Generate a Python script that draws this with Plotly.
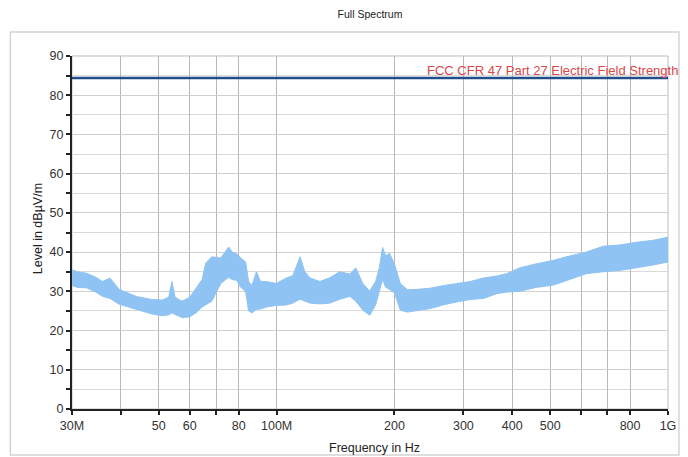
import plotly.graph_objects as go

# ---- data (frequencies in MHz, levels in dBuV/m) ----
freq_mhz = [30, 31, 32.7, 34.5, 35.9, 37.5, 39.6, 43.8, 48.1, 51, 53, 54, 55, 57.3,
            60, 62.2, 64.5, 65.9, 68.3, 72, 75.4, 77, 79, 81, 83.3, 84.8, 86.5,
            88.8, 91, 94.2, 99.8, 105.8, 110, 114.8, 118, 121.7, 129, 136.9, 145,
            153.8, 159.3, 166, 172.9, 179, 183, 186.5, 190, 194.3, 200, 207, 216,
            229, 247, 268, 289, 312, 338, 365, 387, 418, 460, 510, 560, 618, 683,
            750, 830, 915, 1000]
level_upper = [35.5, 35.0, 34.6, 33.6, 32.5, 33.4, 30.5, 28.7, 27.9, 27.8, 28.5, 32.5,
               28.5, 27.5, 28.5, 30.9, 33.0, 37.2, 38.8, 38.5, 41.3, 40.0, 39.6, 38.5,
               37.5, 32.5, 31.5, 35.0, 32.5, 32.5, 32.0, 33.4, 34.0, 38.8, 35.0, 33.4,
               32.5, 33.5, 35.0, 34.4, 36.0, 32.0, 30.1, 32.5, 36.0, 41.2, 39.0, 39.7,
               37.0, 32.0, 30.4, 30.5, 30.8, 31.5, 32.0, 32.5, 33.4, 33.9, 34.5, 36.0,
               37.0, 37.9, 39.0, 40.0, 41.5, 41.8, 42.5, 43.0, 43.8]
level_lower = [31.5, 31.0, 30.9, 29.8, 28.7, 28.2, 26.7, 25.4, 24.2, 23.8, 24.0, 24.5,
               24.0, 23.3, 23.5, 24.5, 26.0, 26.5, 27.5, 32.0, 33.6, 33.0, 32.8, 31.0,
               30.0, 25.0, 24.5, 25.4, 25.5, 26.0, 26.4, 26.5, 27.0, 28.0, 27.5, 27.0,
               26.8, 27.0, 28.0, 28.7, 27.5, 25.2, 23.9, 26.5, 30.0, 33.0, 31.0, 30.5,
               29.6, 25.2, 24.7, 25.0, 25.6, 26.6, 27.3, 27.9, 28.2, 29.4, 29.8, 30.0,
               31.0, 31.6, 33.0, 34.5, 35.0, 35.3, 36.0, 36.7, 37.5]

limit_freq = [30, 1000]
limit_level = [84.4, 84.4]
limit_name = "FCC CFR 47 Part 27 Electric Field Strength"

x_tickvals = [30, 40, 50, 60, 70, 80, 100, 200, 300, 400, 500, 600, 700, 800, 1000]
x_ticktext = ["30M", "", "50", "60", "", "80", "100M", "200", "300", "400", "500",
              "", "", "800", "1G"]
y_tickvals = [0, 10, 20, 30, 40, 50, 60, 70, 80, 90]
y_minor = [5, 15, 25, 35, 45, 55, 65, 75, 85]

FONT = "Liberation Sans, Arial, sans-serif"

# page body has an 8px margin, so the figure is 8px smaller than the window
W, H = 680, 449
L, R, T, B = 64, 16, 48, 48
plot_w = W - L - R
plot_h = H - T - B

fig = go.Figure()

# spectrum band (upper envelope forward, lower envelope back)
fig.add_trace(go.Scatter(
    x=freq_mhz + freq_mhz[::-1],
    y=level_upper + level_lower[::-1],
    fill="toself", mode="lines",
    line=dict(color="#8EC3F4", width=1),
    fillcolor="#8EC3F4",
    hoverinfo="skip", showlegend=False))

# limit line
fig.add_trace(go.Scatter(
    x=limit_freq, y=limit_level, mode="lines",
    line=dict(color="#1F4E8A", width=2.5),
    showlegend=False, name=limit_name))

fig.add_annotation(
    text=limit_name, xref="paper", yref="y",
    x=(419 - L) / plot_w, y=limit_level[0], xanchor="left", yanchor="bottom",
    yshift=-2, showarrow=False,
    font=dict(family=FONT, size=13, color="#D9474A"))

# outer frame
fig.add_shape(type="rect", xref="paper", yref="paper",
              x0=(2 - L) / plot_w, x1=(675 - L) / plot_w,
              y0=-(447 - (H - B)) / plot_h, y1=((H - B) - 24) / plot_h,
              line=dict(color="#D4D4D4", width=1.5), layer="below")

fig.update_layout(
    width=W, height=H,
    margin=dict(l=L, r=R, t=T, b=B),
    paper_bgcolor="white", plot_bgcolor="white",
    title=dict(text="Full Spectrum", x=0.5, xref="paper", xanchor="center",
               y=1 - 6 / H, yref="container", yanchor="middle",
               font=dict(family=FONT, size=10.5, color="#222")),
    font=dict(family=FONT, size=12, color="#333"),
)

fig.add_annotation(text="Frequency in Hz", xref="paper", yref="paper",
                   x=0.507, y=-(440 - (H - B)) / plot_h,
                   xanchor="center", yanchor="middle",
                   showarrow=False, font=dict(family=FONT, size=12.5, color="#222"))
fig.add_annotation(text="Level in dBµV/m", xref="paper", yref="paper",
                   x=(30 - L) / plot_w, y=0.51, textangle=-90,
                   xanchor="center", yanchor="middle",
                   showarrow=False, font=dict(family=FONT, size=12.5, color="#222"))

fig.update_xaxes(
    type="log", range=[1.4771212547, 3.0],
    tickvals=x_tickvals, ticktext=x_ticktext,
    showgrid=True, gridcolor="#B8B8B8", gridwidth=1,
    showline=True, linecolor="#222", linewidth=2,
    ticks="outside", ticklen=4, tickcolor="#222", tickwidth=1.5,
    tickfont=dict(family=FONT, size=12.5, color="#333"),
    zeroline=False, mirror=False)

fig.update_yaxes(
    range=[0, 90], tickvals=y_tickvals,
    minor=dict(tickvals=y_minor, showgrid=True,
               gridcolor="#D9D9D9", ticks="outside", ticklen=4, tickcolor="#222"),
    showgrid=True, gridcolor="#D0D0D0", gridwidth=1,
    showline=True, linecolor="#222", linewidth=2,
    ticks="outside", ticklen=4, tickcolor="#222", tickwidth=1.5,
    tickfont=dict(family=FONT, size=12.5, color="#333"),
    zeroline=False)

# top/right plot border
fig.add_shape(type="rect", xref="paper", yref="paper", x0=0, x1=1, y0=0, y1=1,
              line=dict(color="#BDBDBD", width=1), layer="below")

fig.write_html("out.html")
